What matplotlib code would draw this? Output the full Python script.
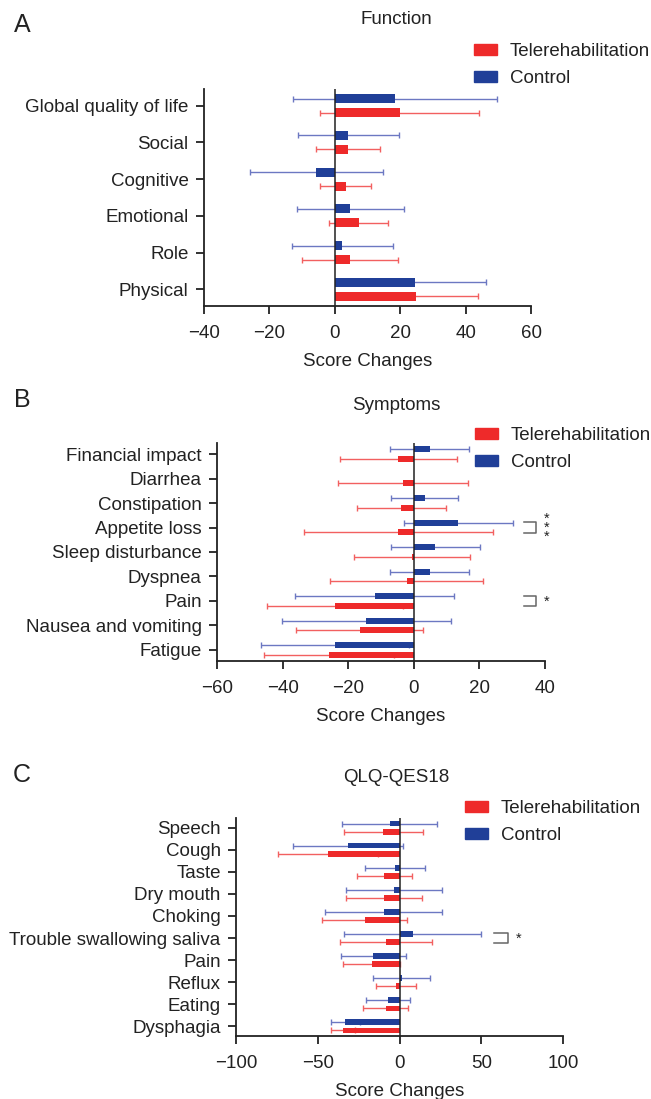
import matplotlib
matplotlib.use('Agg')
import matplotlib.pyplot as plt
import numpy as np
from matplotlib.patches import Patch

plt.rcParams['font.family'] = ['Liberation Sans', 'DejaVu Sans']
plt.rcParams['axes.unicode_minus'] = True

RED = '#ee2a2a'
BLUE = '#203f98'
RED_ERR = '#f26060'
BLUE_ERR = '#6c78c2'
INK = '#222222'

# panel A - Function (listed top to bottom)
func_cats = ['Global quality of life', 'Social', 'Cognitive', 'Emotional', 'Role', 'Physical']
func_tele = [19.8, 4.1, 3.3, 7.3, 4.6, 24.7]
func_tele_sd = [24.3, 9.7, 7.8, 9.1, 14.7, 19.1]
func_ctrl = [18.5, 4.1, -5.6, 4.8, 2.3, 24.6]
func_ctrl_sd = [31.2, 15.5, 20.2, 16.3, 15.4, 21.5]

# panel B - Symptoms
symp_cats = ['Financial impact', 'Diarrhea', 'Constipation', 'Appetite loss', 'Sleep disturbance',
             'Dyspnea', 'Pain', 'Nausea and vomiting', 'Fatigue']
symp_tele = [-4.7, -3.2, -3.8, -4.7, -0.6, -2.2, -24.0, -16.5, -25.9]
symp_tele_sd = [17.9, 19.8, 13.5, 28.9, 17.7, 23.2, 20.7, 19.3, 19.8]
symp_ctrl = [4.8, np.nan, 3.3, 13.5, 6.6, 4.8, -11.9, -14.5, -24.0]
symp_ctrl_sd = [12.1, np.nan, 10.2, 16.6, 13.5, 12.1, 24.2, 25.8, 22.6]
symp_sig = {'Appetite loss': 3, 'Pain': 1}

# panel C - QLQ-OES18
oes_cats = ['Speech', 'Cough', 'Taste', 'Dry mouth', 'Choking', 'Trouble swallowing saliva',
            'Pain', 'Reflux', 'Eating', 'Dysphagia']
oes_tele = [-9.9, -43.8, -9.2, -9.7, -21.4, -8.1, -17.0, -2.3, -8.4, -34.6]
oes_tele_sd = [24.2, 30.8, 17.0, 23.2, 25.8, 28.0, 17.6, 12.1, 13.9, 7.6]
oes_ctrl = [-6.1, -31.6, -2.8, -3.3, -9.7, 8.1, -16.0, 1.3, -6.9, -33.3]
oes_ctrl_sd = [29.3, 33.6, 18.3, 29.3, 35.6, 42.0, 19.9, 17.4, 13.5, 8.9]
oes_sig = {'Trouble swallowing saliva': 1}

W, H = 651, 1099
fig = plt.figure(figsize=(W / 100, H / 100), dpi=100)


def px_box(x0, x1, y0, y1):
    return [x0 / W, 1 - y1 / H, (x1 - x0) / W, (y1 - y0) / H]


def panel(box, cats, tele, tele_sd, ctrl, ctrl_sd, xlim, xticks, sig=None,
          bracket_x=None, star_x=None):
    ax = fig.add_axes(box)
    n = len(cats)
    pos = np.arange(n)[::-1].astype(float)
    off, h = 0.19, 0.25
    ax.errorbar(ctrl, pos + off, xerr=ctrl_sd, fmt='none', ecolor=BLUE_ERR,
                elinewidth=1.0, capsize=2.2, capthick=1.0, zorder=1)
    ax.errorbar(tele, pos - off, xerr=tele_sd, fmt='none', ecolor=RED_ERR,
                elinewidth=1.0, capsize=2.2, capthick=1.0, zorder=1)
    ax.barh(pos + off, np.nan_to_num(ctrl), height=h, color=BLUE, zorder=2)
    ax.barh(pos - off, tele, height=h, color=RED, zorder=2)
    ax.axvline(0, color=INK, lw=1.1, zorder=3)
    ax.set_xlim(*xlim)
    ax.set_ylim(-0.45, n - 0.55)
    ax.set_xticks(xticks)
    ax.set_yticks(pos)
    ax.set_yticklabels(cats)
    for s in ['top', 'right']:
        ax.spines[s].set_visible(False)
    for s in ['left', 'bottom']:
        ax.spines[s].set_linewidth(1.3)
        ax.spines[s].set_color(INK)
    ax.tick_params(axis='both', colors=INK, labelsize=13.5, width=1.3, length=6)
    ax.tick_params(axis='y', pad=5)
    ax.tick_params(axis='x', pad=8)
    ax.set_xlabel('Score Changes', fontsize=13.5, color=INK, labelpad=7.5)
    if sig:
        for name, k in sig.items():
            y = pos[cats.index(name)]
            bx0, bx1 = bracket_x
            ax.plot([bx0, bx1, bx1, bx0], [y + 0.21, y + 0.21, y - 0.21, y - 0.21],
                    color='#666666', lw=1.1, clip_on=False)
            stars = '\n'.join(['*'] * k)
            ax.text(star_x, y - 0.02, stars, fontsize=10.5, color=INK, linespacing=0.52,
                    ha='center', va='center', clip_on=False)
    return ax


def legend(x, y):
    handles = [Patch(color=RED), Patch(color=BLUE)]
    fig.legend(handles, ['Telerehabilitation', 'Control'], loc='upper left',
               bbox_to_anchor=(x / W, 1 - y / H), frameon=False, fontsize=13.5,
               handlelength=1.25, handleheight=0.55, handletextpad=0.65,
               labelspacing=0.55, borderpad=0, borderaxespad=0,
               labelcolor=INK)


panel(px_box(204, 531, 89, 306), func_cats, func_tele, func_tele_sd, func_ctrl,
      func_ctrl_sd, (-40, 60), [-40, -20, 0, 20, 40, 60])
panel(px_box(217, 545, 443, 661), symp_cats, symp_tele, symp_tele_sd, symp_ctrl,
      symp_ctrl_sd, (-60, 40), [-60, -40, -20, 0, 20, 40], symp_sig,
      (33.5, 37.2), 40.5)
panel(px_box(236, 563, 818, 1036), oes_cats, oes_tele, oes_tele_sd, oes_ctrl,
      oes_ctrl_sd, (-100, 100), [-100, -50, 0, 50, 100], oes_sig,
      (58.0, 66.1), 72.8)

legend(474, 43)
legend(475, 427)
legend(465, 800)

for letter, title, ly, ty in [('A', 'Function', 25, 19), ('B', 'Symptoms', 400, 405),
                              ('C', 'QLQ-QES18', 775, 777)]:
    fig.text(22 / W, 1 - ly / H, letter, fontsize=18, color=INK, ha='center', va='center')
    fig.text(396 / W, 1 - ty / H, title, fontsize=13.5, color=INK, ha='center', va='center')

fig.savefig('out.png', dpi=100)
